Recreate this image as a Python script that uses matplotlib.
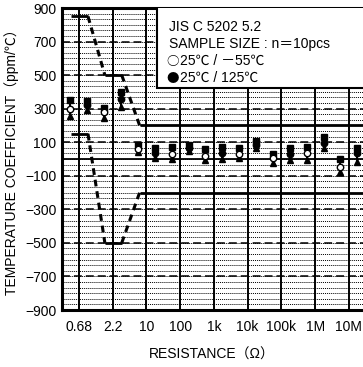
import matplotlib
matplotlib.use("Agg")
import matplotlib.pyplot as plt
from matplotlib.patches import Rectangle
import numpy as np

FONT = ['Liberation Sans', 'Noto Sans CJK JP', 'DejaVu Sans']
CJK = ['Noto Sans CJK JP', 'DejaVu Sans']
plt.rcParams['font.family'] = FONT

# ---- data ----
resistances = ['0.68', '2.2', '10', '100', '1k', '10k', '100k', '1M', '10M']
# 25°C / -55°C (open circle)
cold_max = [352, 305, 85, 70, 60, 65, 30, 70, 0]
cold_mean = [300, 278, 60, 30, 15, 30, 5, 35, -45]
cold_min = [255, 245, 40, 0, -5, 5, -25, -5, -75]
# 25°C / 125°C (filled circle)
hot_max = [345, 400, 65, 85, 70, 105, 65, 130, 65]
hot_mean = [320, 360, 35, 65, 35, 85, 30, 95, 35]
hot_min = [290, 310, 5, 50, 0, 65, -5, 65, -20]

# spec limit outline (category units, ppm/°C)
upper_x = [-0.22, 0.27, 0.77, 1.27, 1.8, 8.6]
upper_y = [850, 850, 500, 500, 200, 200]
lower_x = [-0.22, 0.27, 0.77, 1.27, 1.8, 8.6]
lower_y = [150, 150, -500, -500, -200, -200]
seg_solid = [True, False, True, False, True]

yticks = [900, 700, 500, 300, 100, -100, -300, -500, -700, -900]

W, H = 363, 367
fig = plt.figure(figsize=(W / 100, H / 100), dpi=100)
left, right, top, bottom = 62, 62 + 9 * 33.75, 8, 310
ax = fig.add_axes([left / W, 1 - bottom / H, (right - left) / W, (bottom - top) / H])
ax.set_xlim(-0.5, 8.5)
ax.set_ylim(-900, 900)

x = np.arange(len(resistances))

# grid
for v in np.arange(900, -901, -200 / 6):
    ax.axhline(v, color='black', lw=0.7, ls=(0, (1, 1)), zorder=1)
for v in [700, 500, 300, 100, -100, -300, -500, -700]:
    ax.axhline(v, color='black', lw=1.1, ls=(0, (5.2, 2.6)), zorder=2)
ax.axhline(0, color='black', lw=1.3, zorder=2)
for xi in x:
    ax.axvline(xi, color='black', lw=1.4, zorder=2)

# spec limits
for xs, ys in [(upper_x, upper_y), (lower_x, lower_y)]:
    for i in range(len(xs) - 1):
        if seg_solid[i]:
            ax.plot(xs[i:i + 2], ys[i:i + 2], color='black', lw=2.0, solid_capstyle='butt', zorder=3)
        else:
            ax.plot(xs[i:i + 2], ys[i:i + 2], color='black', lw=2.2, ls=(0, (2.2, 1.6)), zorder=3)

# data groups
def group(xpos, mx, mean, mn, face):
    ax.vlines(xpos, mn, mx, color='black', lw=1.5, zorder=4)
    ax.plot(xpos, mx, 's', color='black', ms=4.8, zorder=5, ls='none')
    ax.plot(xpos, mn, '^', color='black', ms=4.8, zorder=5, ls='none')
    ax.plot(xpos, mean, 'o', mfc=face, mec='black', mew=1.0, ms=4.6, zorder=6, ls='none')

group(x - 0.25, cold_max, cold_mean, cold_min, 'white')
group(x + 0.25, hot_max, hot_mean, hot_min, 'black')

# legend box
ax.add_patch(Rectangle((2.31, 425), 7, 600, facecolor='white', edgecolor='black', lw=1.5, zorder=7))
leg_x = 2.6
ax.text(leg_x + 0.08, 785, 'JIS C 5202 5.2', fontsize=10, va='center', ha='left', zorder=8, family=FONT)
ax.text(leg_x + 0.08, 684, 'SAMPLE SIZE : n＝10pcs', fontsize=10, va='center', ha='left', zorder=8, family=FONT)
leg_syms = ['○', '●']
leg_labels = ['25℃ / －55℃', '25℃ / 125℃']
for i, (s, t) in enumerate(zip(leg_syms, leg_labels)):
    yv = 583 - i * 101
    ax.text(leg_x, yv, s, fontsize=9, va='center', ha='left', zorder=8, family=CJK)
    ax.annotate(t, (leg_x, yv), xytext=(9.5, 0), textcoords='offset points', fontsize=10,
                va='center', ha='left', zorder=8, family=FONT)

# axes styling
for s in ['left', 'bottom', 'top']:
    ax.spines[s].set_linewidth(2.2)
ax.spines['right'].set_visible(False)
ax.set_xticks(x)
ax.set_xticklabels(resistances, fontsize=10)
ax.set_yticks(yticks)
ax.set_yticklabels([str(v).replace('-', '−') for v in yticks], fontsize=10)
ax.tick_params(length=0, pad=4)
ax.tick_params(axis='x', pad=7)

fig.text(212 / W, 1 - 355 / H, 'RESISTANCE（Ω）', ha='center', va='center', fontsize=10, family=FONT)
fig.text(12 / W, 1 - 159 / H, 'TEMPERATURE COEFFICIENT（ppm/℃）', ha='center', va='center',
         rotation=90, fontsize=10, family=FONT)

fig.savefig('out.png', dpi=100)
